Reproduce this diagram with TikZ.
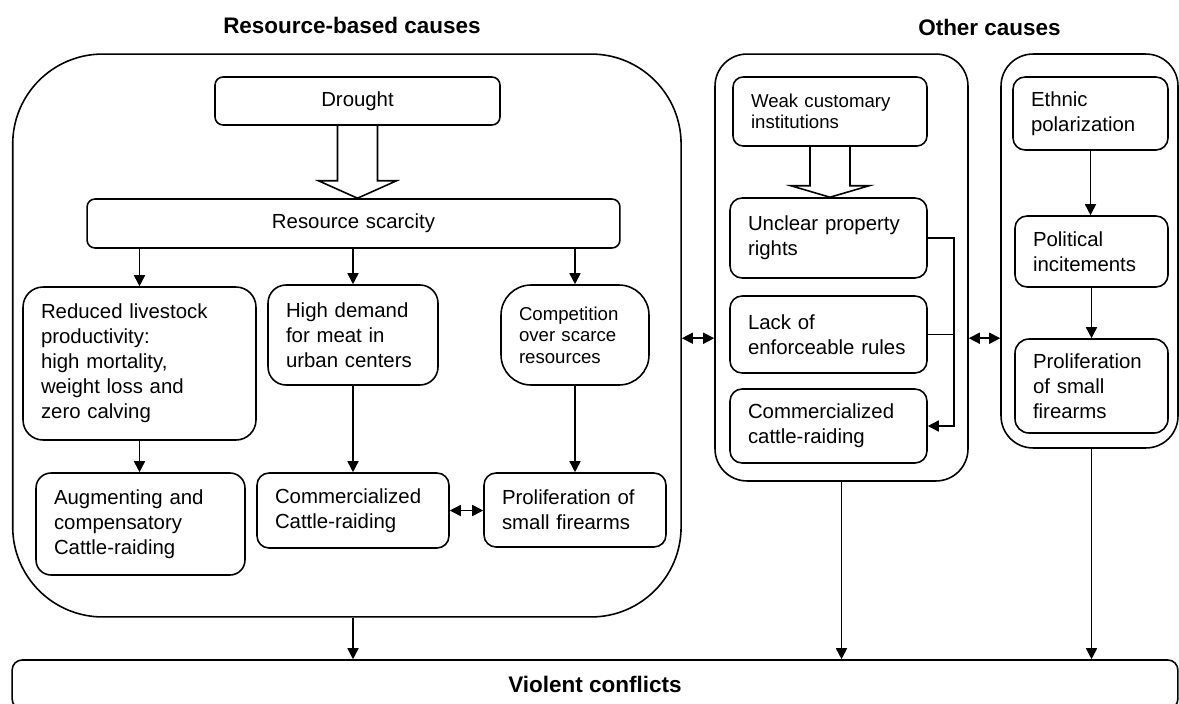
\documentclass[tikz,border=0pt]{standalone}
\usepackage{fontspec}
\setmainfont{Liberation Sans}
\usetikzlibrary{arrows.meta,calc}

\begin{document}
\begin{tikzpicture}[x=0.02cm,y=-0.02cm,line width=0.9pt,>={Triangle[length=0.22cm,width=0.22cm]},
  cause/.style={draw,align=left,inner xsep=0.36cm,rounded corners=0.24cm,font=\fontsize{11.6}{14.2}\selectfont},
  small/.style={font=\fontsize{10.6}{12.2}\selectfont},
  group/.style={draw,inner sep=0pt},
  heading/.style={font=\bfseries\fontsize{12.8}{15}\selectfont}]
  \useasboundingbox (0,0) rectangle (1179,703);
  \clip (0,0) rectangle (1179,703);

  % headings and outer groups
  \node[heading] (resT) at (352,25.5) {Resource-based causes};
  \node[heading] (othT) at (989.5,27.5) {Other causes};
  \node[group,rounded corners=1.8cm,minimum width=13.37cm,minimum height=11.26cm] (resC) at (346.9,335.5) {};
  \node[group,rounded corners=0.64cm,minimum width=5.06cm,minimum height=8.54cm] (othC) at (841.5,267.5) {};
  \node[group,rounded corners=0.64cm,minimum width=3.54cm,minimum height=7.88cm] (ethC) at (1089.5,251) {};
  \node[draw,heading,rounded corners=0.2cm,minimum width=23.32cm,minimum height=0.98cm] (violent) at (595,684.5) {Violent conflicts};

  % resource-based causes
  \node[cause,align=center,text width=4.98cm,minimum height=0.96cm,rounded corners=0.16cm] (drought) at (357.5,101) {Drought};
  \node[cause,align=center,text width=9.94cm,minimum height=0.98cm,rounded corners=0.16cm] (scarcity) at (353.5,223.5) {Resource scarcity};
  \node[cause,text width=3.94cm,minimum height=3.06cm,rounded corners=0.4cm] (reduced) at (139.5,363.5) {Reduced livestock\\productivity:\\high mortality,\\weight loss and\\zero calving};
  \node[cause,text width=2.68cm,minimum height=2cm,rounded corners=0.36cm] (demand) at (353,335) {High demand\\for meat in\\urban centers};
  \node[cause,small,text width=2.24cm,minimum height=2cm,rounded corners=0.6cm] (compete) at (575,335) {Competition\\over scarce\\resources};
  \node[cause,text width=3.46cm,minimum height=2.04cm,rounded corners=0.3cm] (augment) at (140.5,524) {Augmenting and\\compensatory\\Cattle-raiding};
  \node[cause,text width=3.12cm,minimum height=1.5cm] (commL) at (353,510.5) {Commercialized\\Cattle-raiding};
  \node[cause,text width=2.92cm,minimum height=1.48cm] (prolifL) at (575,510) {Proliferation of\\small firearms};

  % other causes
  \node[cause,small,text width=3.16cm,minimum height=1.38cm,rounded corners=0.2cm] (weak) at (830,111.5) {Weak customary\\institutions};
  \node[cause,text width=3.22cm,minimum height=1.6cm] (unclear) at (828.5,238) {Unclear property\\rights};
  \node[cause,text width=3.22cm,minimum height=1.54cm] (lack) at (828.5,334.5) {Lack of\\enforceable rules};
  \node[cause,text width=3.22cm,minimum height=1.48cm] (commM) at (828.5,426) {Commercialized\\cattle-raiding};
  \node[cause,text width=2.38cm,minimum height=1.46cm] (ethnic) at (1090.5,113.5) {Ethnic\\polarization};
  \node[cause,text width=2.34cm,minimum height=1.42cm] (political) at (1091.5,251.5) {Political\\incitements};
  \node[cause,text width=2.34cm,minimum height=1.88cm,rounded corners=0.28cm] (prolifR) at (1091.5,386) {Proliferation\\of small\\firearms};

  % hollow block arrows
  \draw ($(drought.south)+(-20,0)$) -- ++(0,55) -- ++(-19,0) -- (drought.south |- scarcity.north)
    -- ($(drought.south)+(39,55)$) -- ++(-19,0) -- ($(drought.south)+(20,0)$);
  \draw ($(weak.south)+(-20,0)$) -- ++(0,39) -- ++(-19,0) -- (weak.south |- unclear.north)
    -- ($(weak.south)+(39,39)$) -- ++(-19,0) -- ($(weak.south)+(20,0)$);

  % connectors
  \draw[->] (scarcity.south -| reduced.north) -- (reduced.north);
  \draw[->] (scarcity.south -| demand.north) -- (demand.north);
  \draw[->] (scarcity.south -| compete.north) -- (compete.north);
  \draw[->] (reduced.south) -- (reduced.south |- augment.north);
  \draw[->] (demand.south) -- (commL.north);
  \draw[->] (compete.south) -- (prolifL.north);
  \draw[<->] (commL.east) -- (commL.east -| prolifL.west);
  \draw[->] (unclear.east) -- ++(26,0) |- (commM.east);
  \draw (lack.east) -- ++(26,0);
  \draw[->] (ethnic.south) -- (ethnic.south |- political.north);
  \draw[->] (political.south) -- (political.south |- prolifR.north);
  \draw[<->] (resC.east |- prolifR.north) -- (othC.west |- prolifR.north);
  \draw[<->] (othC.east |- prolifR.north) -- (ethC.west |- prolifR.north);
  \draw[->] (resC.south -| demand.south) -- (demand.south |- violent.north);
  \draw[->] (othC.south) -- (othC.south |- violent.north);
  \draw[->] (ethC.south -| political.south) -- (political.south |- violent.north);
\end{tikzpicture}
\end{document}
